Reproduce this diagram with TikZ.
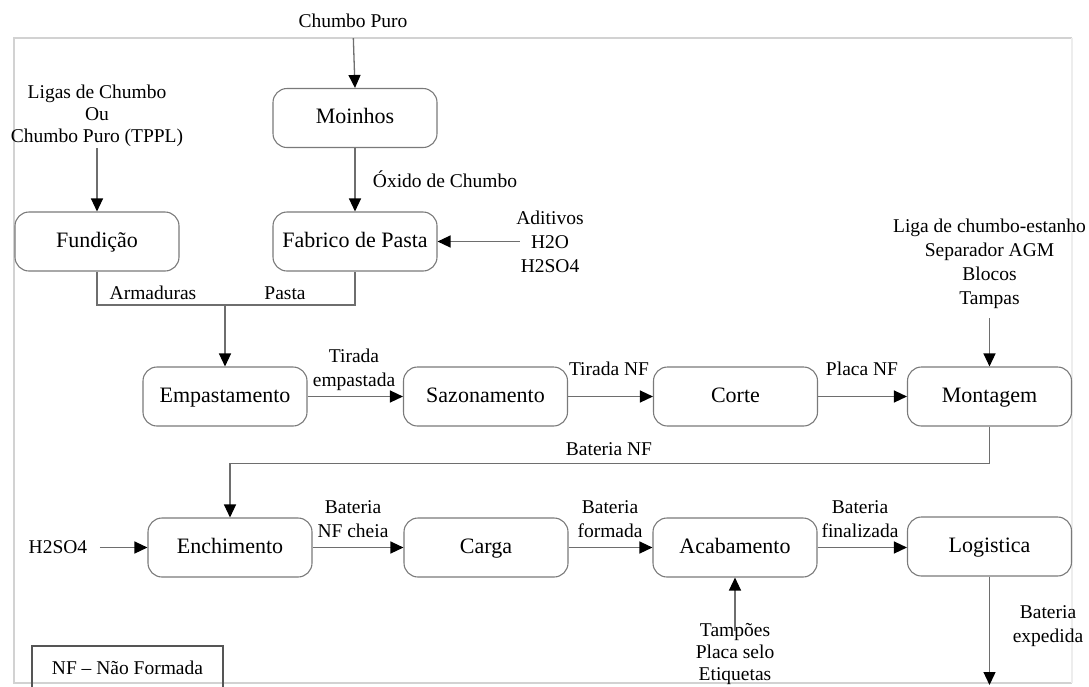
\documentclass[tikz,border=0pt]{standalone}
\usepackage{fontspec}
\setmainfont{Liberation Serif}
\usetikzlibrary{arrows.meta}
\definecolor{linegray}{HTML}{6E6E6E}
\definecolor{boxgray}{HTML}{7A7A7A}
\definecolor{framegray}{HTML}{D2D2D2}
\definecolor{faintgray}{HTML}{EDEDED}
\definecolor{nfgray}{HTML}{555555}
\begin{document}
\begin{tikzpicture}[x=1pt,y=-1pt,
  box/.style={draw=boxgray, line width=1.1pt, rounded corners=14pt,
    minimum width=164pt, minimum height=59pt, inner sep=0pt,
    text height=15.6pt, text depth=4.6pt,
    font=\fontsize{22}{26}\selectfont},
  lbl/.style={inner sep=0pt, align=center, font=\fontsize{19.5}{24}\selectfont},
  conn/.style={draw=linegray, line width=1.3pt},
  arr/.style={conn, -{Triangle[length=13pt,width=12pt,color=black]}},
]
\useasboundingbox (0,0) rectangle (1089,686);
\draw[framegray, line width=1.2pt] (1072,38) -- (14,38) -- (14,683) -- (1072,683);
\draw[faintgray, line width=1.2pt] (1072,38) -- (1072,683);

% process boxes
\node[box] (moinhos)  at (355,118)   {Moinhos};
\node[box] (fundicao) at (97,241.5)  {Fundição};
\node[box] (fabrico)  at (355,241.5) {Fabrico de Pasta};
\node[box] (empast)   at (225,396.5) {Empastamento};
\node[box] (sazon)    at (485.5,396.5) {Sazonamento};
\node[box] (corte)    at (735.5,396.5) {Corte};
\node[box] (montagem) at (989.5,396.5) {Montagem};
\node[box] (enchim)   at (230,547.5) {Enchimento};
\node[box] (carga)    at (486,547.5) {Carga};
\node[box] (acab)     at (735,547.5) {Acabamento};
\node[box] (logist)   at (989.5,546.5) {Logistica};

% labels
\node[lbl] (chumbo) at (353,21) {Chumbo Puro};
\node[lbl, font=\fontsize{19.5}{22}\selectfont] (ligas) at (97,116) {Ligas de Chumbo\\Ou\\Chumbo Puro (TPPL)};
\node[lbl] (oxido) at (445,179) {Óxido de Chumbo};
\node[lbl] (aditivos) at (550,241.5) {Aditivos\\H2O\\H2SO4};
\node[lbl] (liga) at (989.5,264) {Liga de chumbo-estanho\\Separador AGM\\Blocos\\Tampas};
\node[lbl] (armad) at (153,293) {Armaduras};
\node[lbl] (pasta) at (285,293) {Pasta};
\node[lbl] (tirada) at (354,370) {Tirada\\empastada};
\node[lbl] (tiradanf) at (609,369) {Tirada NF};
\node[lbl] (placanf) at (862,369) {Placa NF};
\node[lbl] (batnf) at (609,449) {Bateria NF};
\node[lbl] (h2so4) at (58,547.5) {H2SO4};
\node[lbl] (batcheia) at (353,519) {Bateria\\NF cheia};
\node[lbl] (batform) at (610,519) {Bateria\\formada};
\node[lbl] (batfin) at (860,519) {Bateria\\finalizada};
\node[lbl] (batexp) at (1048,626) {Bateria\\expedida};
\node[lbl, font=\fontsize{19.5}{22}\selectfont] (tampoes) at (735,654) {Tampões\\Placa selo\\Etiquetas};
\node[draw=nfgray, line width=1.1pt, minimum width=191pt, minimum height=44pt,
  inner sep=0pt, font=\fontsize{19.5}{24}\selectfont] (nf) at (127.5,668) {NF -- Não Formada};

% connectors
\draw[arr, shorten <=10pt] (chumbo.south) -- (moinhos.north);
\draw[arr, shorten <=1pt] (ligas.south) -- (fundicao.north);
\draw[arr] (moinhos) -- (fabrico);
\draw[arr, shorten <=-3.5pt] (aditivos.west) -- (fabrico.east);
\coordinate (jn) at (225,305);
\draw[conn] (fundicao.south) |- (jn) -| (fabrico.south);
\draw[arr] (jn) -- (empast.north);
\draw[arr] (empast) -- (sazon);
\draw[arr] (sazon) -- (corte);
\draw[arr] (corte) -- (montagem);
\draw[arr, shorten <=9pt] (liga.south) -- (montagem.north);
\draw[arr] (montagem.south) -- ++(0,37) -| (enchim.north);
\draw[arr, shorten <=12.5pt] (h2so4.east) -- (enchim.west);
\draw[arr] (enchim) -- (carga);
\draw[arr] (carga) -- (acab);
\draw[arr] (acab.east) -- (acab.east -| logist.west);
\draw[arr, shorten <=-8pt] (tampoes.north) -- (acab.south);
\coordinate (shipout) at (989.5,685);
\draw[arr] (logist.south) -- (shipout);
\end{tikzpicture}
\end{document}
